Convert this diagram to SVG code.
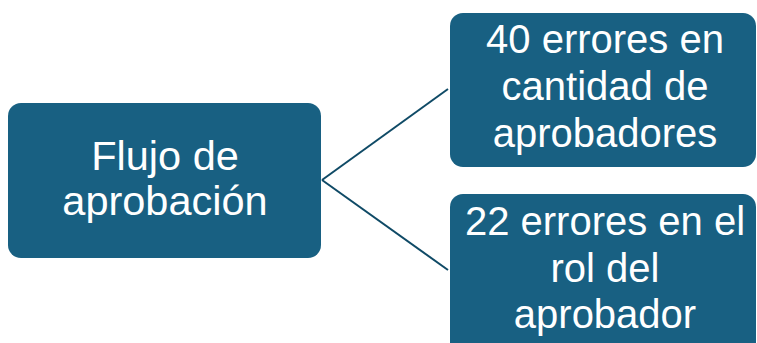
<svg xmlns="http://www.w3.org/2000/svg" width="757" height="343" viewBox="0 0 757 343">
<style>
.node{fill:#186082;}
.lbl{fill:#ffffff;font-family:"Liberation Sans",Arial,sans-serif;font-size:40px;text-anchor:middle;}
.big{font-size:41.5px;}
.conn{stroke:#0f4a66;stroke-width:2;fill:none;}
</style>
<rect width="757" height="343" fill="#ffffff"/>
<g id="connectors">
<line class="conn" x1="322" y1="180" x2="448" y2="89"/>
<line class="conn" x1="322" y1="180" x2="448" y2="270"/>
</g>
<g id="node-flujo">
<rect class="node" x="8" y="103" width="313" height="155" rx="13"/>
<text class="lbl big" x="165" y="170">Flujo de</text>
<text class="lbl big" x="165" y="215">aprobación</text>
</g>
<g id="node-40">
<rect class="node" x="450" y="13" width="306" height="154" rx="13"/>
<text class="lbl" x="605" y="53">40 errores en</text>
<text class="lbl" x="605" y="100">cantidad de</text>
<text class="lbl" x="605" y="147">aprobadores</text>
</g>
<g id="node-22">
<rect class="node" x="450" y="194" width="306" height="165" rx="13"/>
<text class="lbl" x="605" y="235">22 errores en el</text>
<text class="lbl" x="605" y="282">rol del</text>
<text class="lbl" x="605" y="328">aprobador</text>
</g>
</svg>
